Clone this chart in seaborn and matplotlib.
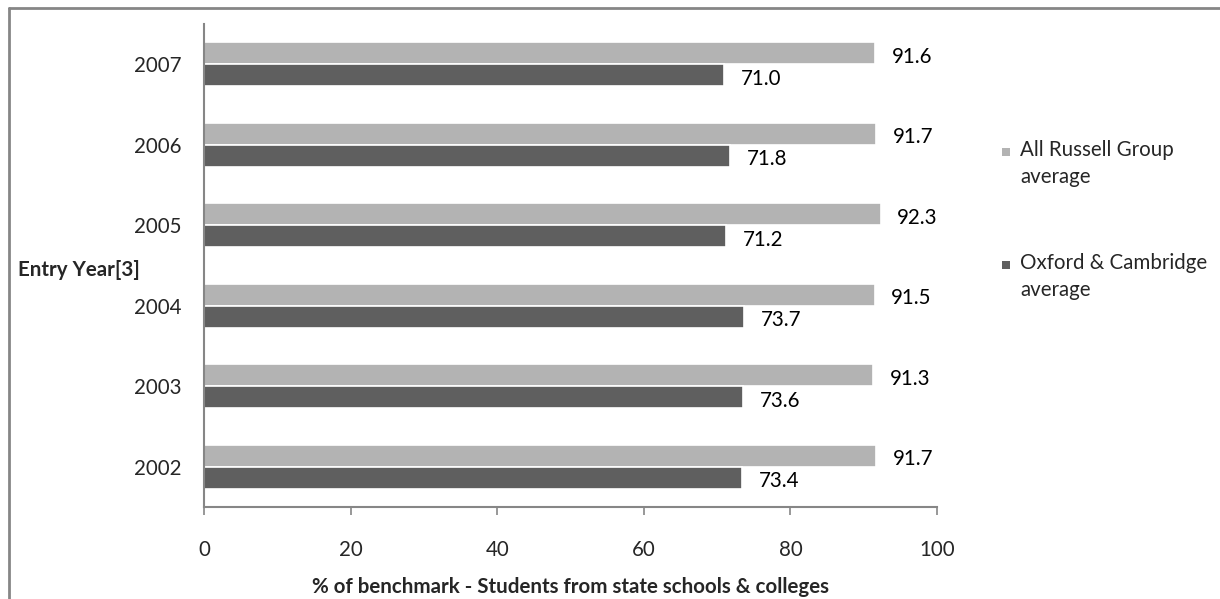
import matplotlib
matplotlib.use("Agg")
import matplotlib.pyplot as plt
from matplotlib.lines import Line2D
from matplotlib.patches import Rectangle
import seaborn as sns
import pandas as pd

years = ["2007", "2006", "2005", "2004", "2003", "2002"]
russell = [91.6, 91.7, 92.3, 91.5, 91.3, 91.7]
oxbridge = [71.0, 71.8, 71.2, 73.7, 73.6, 73.4]
series_names = ["All Russell Group\naverage", "Oxford & Cambridge\naverage"]
colors = ["#b3b3b3", "#5f5f5f"]

df = pd.DataFrame({
    "Year": years * 2,
    "Value": russell + oxbridge,
    "Series": [series_names[0]] * len(years) + [series_names[1]] * len(years),
})

sns.set_style("white")
plt.rcParams["font.family"] = ["Lato", "DejaVu Sans"]

axis_grey = "#868686"
fs = 14.8
W, H = 1220, 599

fig = plt.figure(figsize=(12.2, 5.99), dpi=100)
ax = fig.add_axes([204 / W, 1 - 507 / H, (937 - 204) / W, (507 - 24) / H])

sns.barplot(
    data=df, x="Value", y="Year", hue="Series", order=years,
    hue_order=series_names, palette=colors, orient="h",
    width=0.55, edgecolor="white", linewidth=1.2, ax=ax, legend=False,
)

for container in ax.containers:
    texts = ax.bar_label(container, fmt="%.1f", padding=12, fontsize=fs, color="black")
    for t in texts:
        t.xyann = (12, -2.5)

ax.set_xlim(0, 100)
ax.set_ylim(5.5, -0.5)
ax.set_xticks(range(0, 101, 20))
ax.set_yticks(range(len(years)))
ax.set_yticks([i - 0.5 for i in range(len(years) + 1)], minor=True)
ax.tick_params(axis="y", which="major", length=0, pad=16, labelsize=fs)
ax.tick_params(axis="y", which="minor", length=6, color=axis_grey, width=1.2)
ax.tick_params(axis="x", which="major", length=6, color=axis_grey, width=1.2,
               pad=18, labelsize=fs, bottom=True)

for side in ["top", "right"]:
    ax.spines[side].set_visible(False)
for side in ["left", "bottom"]:
    ax.spines[side].set_color(axis_grey)
    ax.spines[side].set_linewidth(1.5)

ax.set_xlabel("% of benchmark - Students from state schools & colleges",
              fontsize=fs, fontweight="bold", labelpad=12)
ax.set_ylabel("")
fig.text(18 / W, 1 - 270 / H, "Entry Year[3]", fontsize=fs,
         fontweight="bold", ha="left", va="center")

# legend: small square aligned with the first line of each label
legend_rows = [152, 265]
for name, color, yc in zip(series_names, colors, legend_rows):
    fig.add_artist(Rectangle((1002 / W, 1 - (yc + 4) / H), 8 / W, 8 / H,
                             facecolor=color, edgecolor="none",
                             transform=fig.transFigure))
    fig.text(1020 / W, 1 - (yc - 12) / H, name, fontsize=fs, ha="left",
             va="top", linespacing=1.45)

# outer chart border (top and left edges visible)
fig.add_artist(Line2D([8.5 / W, 1], [1 - 8 / H, 1 - 8 / H],
                      color=axis_grey, lw=2, transform=fig.transFigure))
fig.add_artist(Line2D([8.5 / W, 8.5 / W], [0, 1 - 8 / H],
                      color=axis_grey, lw=2, transform=fig.transFigure))

fig.savefig("out.png", dpi=100)
